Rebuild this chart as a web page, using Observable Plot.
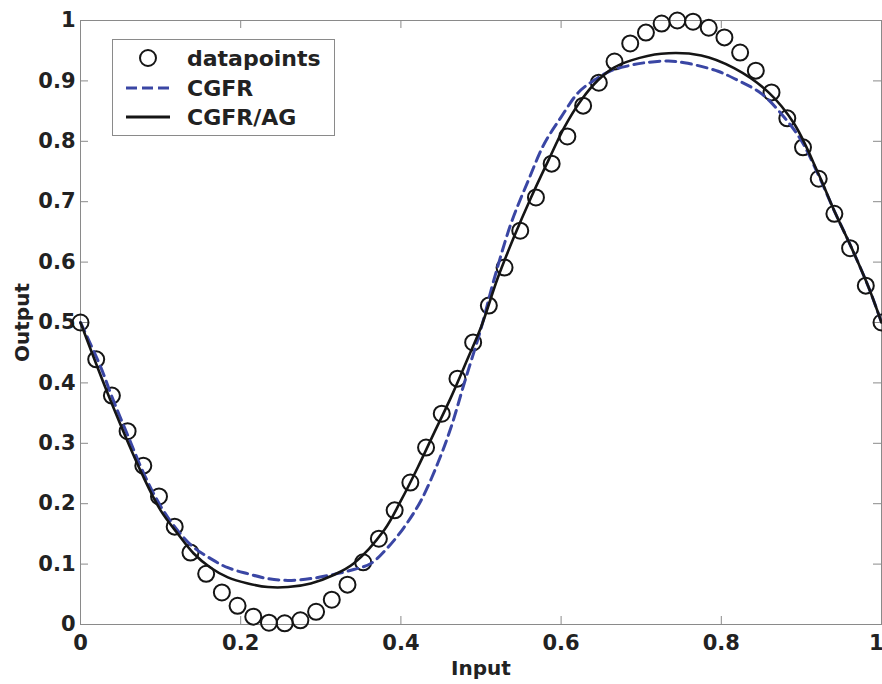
<!DOCTYPE html>
<html>
<head>
<meta charset="utf-8">
<script src="https://cdn.jsdelivr.net/npm/d3@7"></script>
<script src="https://cdn.jsdelivr.net/npm/@observablehq/plot@0.6"></script>
<style>
  html, body { margin: 0; padding: 0; background: #ffffff; }
  #chart { position: relative; width: 882px; height: 684px; }
</style>
</head>
<body>
<div id="chart"></div>
<script>
// ---- data ----
const pointX = [0, 0.0196, 0.0392, 0.0588, 0.0784, 0.098, 0.1176, 0.1373, 0.1569, 0.1765,
  0.1961, 0.2157, 0.2353, 0.2549, 0.2745, 0.2941, 0.3137, 0.3333, 0.3529, 0.3725,
  0.3922, 0.4118, 0.4314, 0.451, 0.4706, 0.4902, 0.5098, 0.5294, 0.549, 0.5686,
  0.5882, 0.6078, 0.6275, 0.6471, 0.6667, 0.6863, 0.7059, 0.7255, 0.7451, 0.7647,
  0.7843, 0.8039, 0.8235, 0.8431, 0.8627, 0.8824, 0.902, 0.9216, 0.9412, 0.9608,
  0.9804, 1];
const pointY = [0.5, 0.439, 0.379, 0.32, 0.263, 0.212, 0.162, 0.119, 0.084, 0.053,
  0.031, 0.013, 0.003, 0.002, 0.007, 0.021, 0.041, 0.066, 0.103, 0.142,
  0.189, 0.235, 0.293, 0.349, 0.407, 0.467, 0.528, 0.591, 0.652, 0.707,
  0.763, 0.808, 0.859, 0.897, 0.932, 0.962, 0.98, 0.995, 1.0, 0.998,
  0.988, 0.972, 0.947, 0.917, 0.881, 0.838, 0.79, 0.738, 0.68, 0.623,
  0.561, 0.5];

const cgfrX = [0, 0.025, 0.041, 0.06, 0.08, 0.1, 0.121, 0.141, 0.1625, 0.184, 0.209, 0.234,
  0.259, 0.2875, 0.316, 0.341, 0.3625, 0.384, 0.404, 0.425, 0.446, 0.4625, 0.479,
  0.5, 0.516, 0.5375, 0.559, 0.579, 0.6, 0.621, 0.641, 0.6625, 0.684, 0.704, 0.734,
  0.754, 0.775, 0.796, 0.816, 0.85, 0.879, 0.9, 0.921, 0.941, 0.9625, 0.984, 1];
const cgfrY = [0.5, 0.427, 0.371, 0.31, 0.247, 0.196, 0.156, 0.128, 0.109, 0.094, 0.084, 0.076,
  0.073, 0.076, 0.083, 0.091, 0.101, 0.128, 0.161, 0.205, 0.267, 0.326, 0.399,
  0.49, 0.57, 0.664, 0.735, 0.796, 0.84, 0.88, 0.901, 0.917, 0.925, 0.93, 0.933,
  0.93, 0.924, 0.916, 0.904, 0.879, 0.839, 0.801, 0.745, 0.685, 0.624, 0.558, 0.5];

const agX = [0, 0.0375, 0.079, 0.1, 0.121, 0.141, 0.1625, 0.184, 0.209, 0.234, 0.259, 0.2875,
  0.316, 0.341, 0.379, 0.4, 0.421, 0.441, 0.4625, 0.484, 0.5, 0.521, 0.541, 0.5625,
  0.584, 0.604, 0.625, 0.646, 0.666, 0.6875, 0.725, 0.775, 0.816, 0.859, 0.891,
  0.921, 0.941, 0.9625, 0.984, 1];
const agY = [0.5, 0.371, 0.243, 0.189, 0.151, 0.118, 0.094, 0.078, 0.068, 0.062, 0.062, 0.068,
  0.082, 0.101, 0.156, 0.205, 0.26, 0.316, 0.376, 0.442, 0.492, 0.574, 0.641, 0.707,
  0.768, 0.823, 0.868, 0.901, 0.922, 0.934, 0.945, 0.942, 0.921, 0.881, 0.829,
  0.747, 0.685, 0.624, 0.558, 0.5];

const xTicks = [0, 0.2, 0.4, 0.6, 0.8, 1];
const xTickLabels = ["0", "0.2", "0.4", "0.6", "0.8", "1"];
const yTicks = [0, 0.1, 0.2, 0.3, 0.4, 0.5, 0.6, 0.7, 0.8, 0.9, 1];
const yTickLabels = ["0", "0.1", "0.2", "0.3", "0.4", "0.5", "0.6", "0.7", "0.8", "0.9", "1"];
const seriesNames = ["datapoints", "CGFR", "CGFR/AG"];
const xLabel = "Input";
const yLabel = "Output";

// ---- tables built from the arrays ----
const points = pointX.map((x, i) => ({x, y: pointY[i]}));
const cgfr = cgfrX.map((x, i) => ({x, y: cgfrY[i]}));
const ag = agX.map((x, i) => ({x, y: agY[i]}));

const BLUE = "#3a46a4";
const INK = "#151515";
const AXIS = "#8a8a8a";
const FONT = "'DejaVu Sans', sans-serif";

const W = 882, H = 684, ML = 80, MR = 1, MT = 20, MB = 60;
const frameW = W - ML - MR, frameH = H - MT - MB;
const TICK = 8;
const lastIdx = xTicks.length - 1;

const chart = Plot.plot({
  width: W, height: H,
  marginLeft: ML, marginRight: MR, marginTop: MT, marginBottom: MB,
  x: {domain: [0, 1]},
  y: {domain: [0, 1]},
  style: {fontFamily: FONT, fontSize: "21px", fontWeight: "bold", background: "#ffffff", color: "#222"},
  marks: [
    Plot.frame({stroke: AXIS, strokeWidth: 1}),
    Plot.tickX(xTicks, {x: d => d, insetTop: frameH - TICK, stroke: AXIS}),
    Plot.tickX(xTicks, {x: d => d, insetBottom: frameH - TICK, stroke: AXIS}),
    Plot.tickY(yTicks, {y: d => d, insetRight: frameW - TICK, stroke: AXIS}),
    Plot.tickY(yTicks, {y: d => d, insetLeft: frameW - TICK, stroke: AXIS}),
    Plot.axisX({ticks: xTicks.slice(0, lastIdx), tickSize: 0, tickPadding: 11, tickFormat: (d, i) => xTickLabels[i], label: null, fill: "#222"}),
    Plot.axisX({ticks: [xTicks[lastIdx]], tickSize: 0, tickPadding: 11, tickFormat: () => xTickLabels[lastIdx], label: null, fill: "#222", textAnchor: "end", dx: 2}),
    Plot.axisY({ticks: yTicks, tickSize: 0, tickPadding: 5, tickFormat: (d, i) => yTickLabels[i], label: null, fill: "#222"}),
    Plot.text([xLabel], {frameAnchor: "bottom", dy: 44, text: d => d, fontSize: 20, fontWeight: "bold", fill: "#222", textAnchor: "middle", lineAnchor: "middle"}),
    Plot.text([yLabel], {frameAnchor: "left", dx: -58, rotate: -90, text: d => d, fontSize: 20, fontWeight: "bold", fill: "#222", textAnchor: "middle", lineAnchor: "middle"}),
    Plot.dot(points, {x: "x", y: "y", r: 8, stroke: INK, strokeWidth: 2, fill: "none"}),
    Plot.line(cgfr, {x: "x", y: "y", stroke: BLUE, strokeWidth: 3, strokeDasharray: "10,6", curve: "catmull-rom"}),
    Plot.line(ag, {x: "x", y: "y", stroke: INK, strokeWidth: 2.6, curve: "catmull-rom"})
  ]
});
document.getElementById("chart").appendChild(chart);

// ---- legend drawn inside the axes (top-left box) ----
const svg = d3.select(chart);
const lg = svg.append("g").attr("font-family", FONT).attr("font-size", 22)
  .attr("font-weight", "bold").attr("text-anchor", "start");
lg.append("rect").attr("x", 112.5).attr("y", 39.5).attr("width", 222).attr("height", 96)
  .attr("fill", "#ffffff").attr("stroke", AXIS).attr("stroke-width", 1);
const rows = [58, 88, 117];
lg.append("circle").attr("cx", 148).attr("cy", rows[0]).attr("r", 8)
  .attr("fill", "none").attr("stroke", INK).attr("stroke-width", 2);
lg.append("line").attr("x1", 126).attr("x2", 170).attr("y1", rows[1]).attr("y2", rows[1])
  .attr("stroke", BLUE).attr("stroke-width", 3).attr("stroke-dasharray", "11,5");
lg.append("line").attr("x1", 126).attr("x2", 170).attr("y1", rows[2]).attr("y2", rows[2])
  .attr("stroke", INK).attr("stroke-width", 3);
seriesNames.forEach((name, i) => {
  lg.append("text").attr("x", 187).attr("y", rows[i]).attr("dy", "0.36em")
    .attr("text-anchor", "start").attr("fill", "#222").text(name);
});
</script>
</body>
</html>
